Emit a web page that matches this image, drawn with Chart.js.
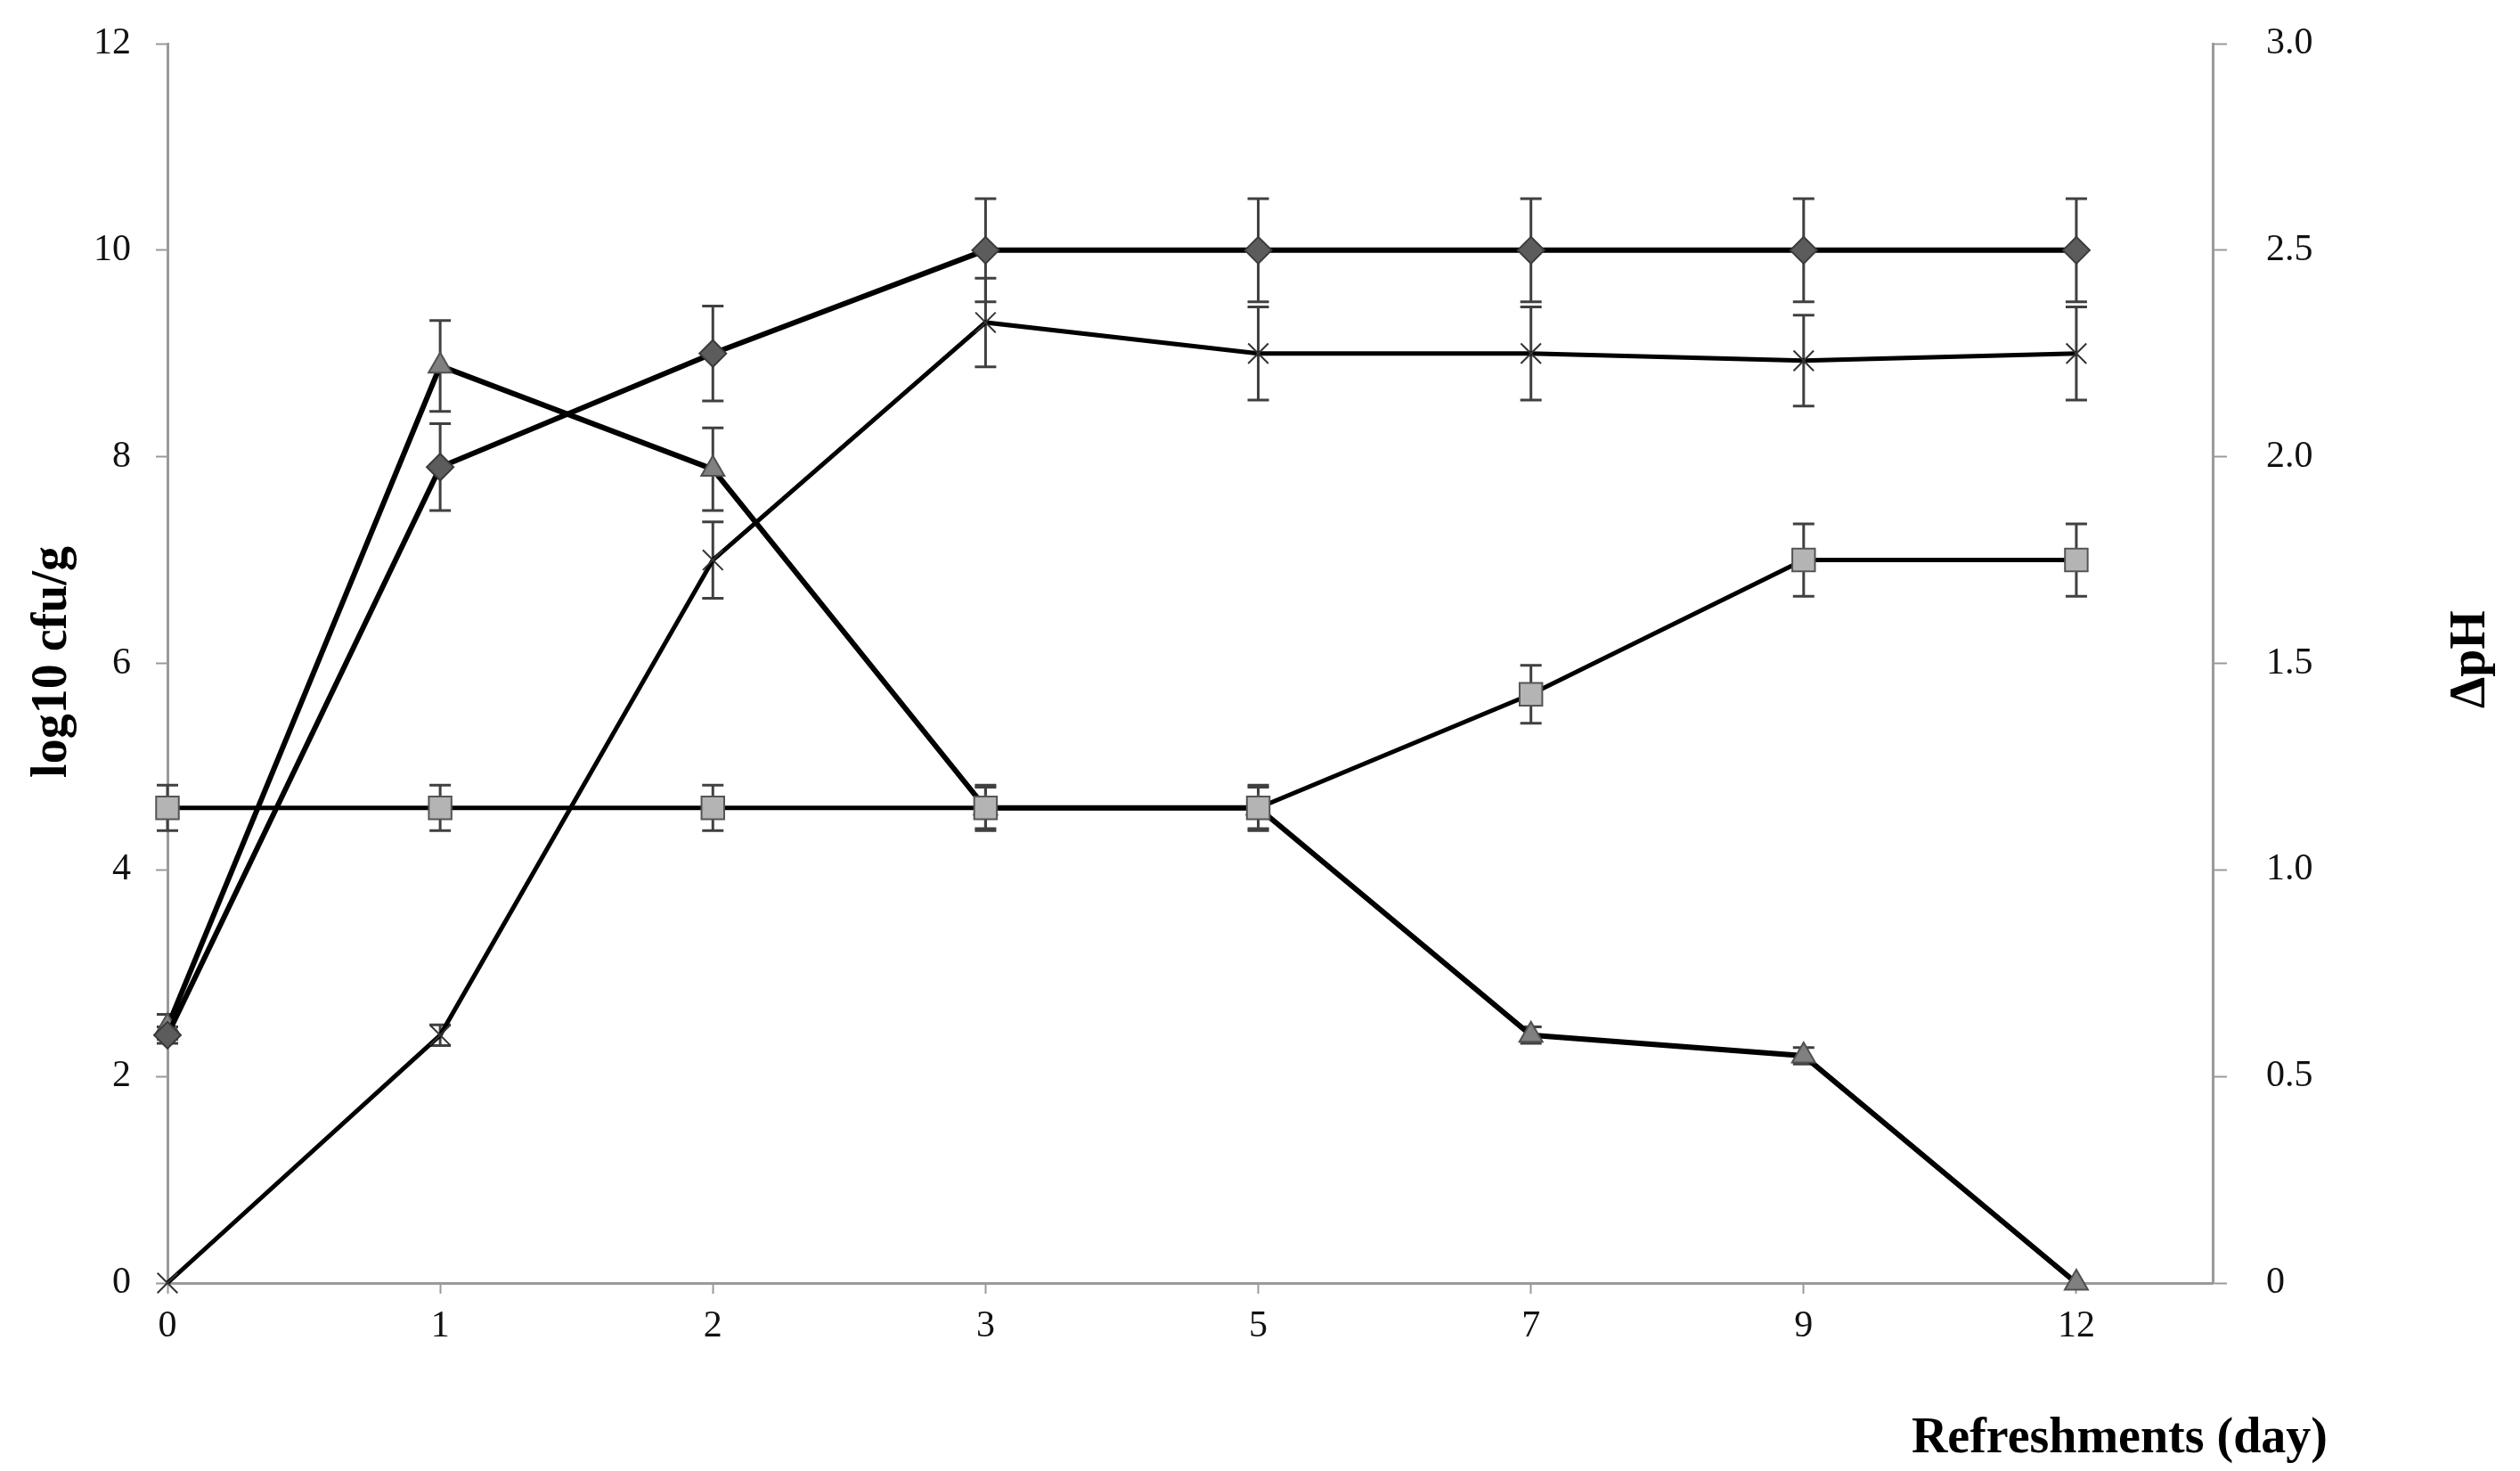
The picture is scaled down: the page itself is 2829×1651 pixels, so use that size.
<!DOCTYPE html>
<html>
<head>
<meta charset="utf-8">
<script src="https://cdn.jsdelivr.net/npm/chart.js@4.4.1/dist/chart.umd.min.js"></script>
<style>
    body { margin: 0; background: #ffffff; }
    #chart { display: block; }
</style>
</head>
<body>
<canvas id="chart" width="2829" height="1651"></canvas>
<script>
// refreshment days (shown as evenly spaced categories)
const days = ["0", "1", "2", "3", "5", "7", "9", "12"];
const dayIndex = [0, 1, 2, 3, 4, 5, 6, 7];

// log10 cfu/g series
const diamondValues = [2.4, 7.9, 9.0, 10.0, 10.0, 10.0, 10.0, 10.0];
const diamondErrors = [0.08, 0.42, 0.46, 0.5, 0.5, 0.5, 0.5, 0.5];

const crossValues = [0, 2.4, 7.0, 9.3, 9.0, 9.0, 8.93, 9.0];
const crossErrors = [0, 0.1, 0.37, 0.43, 0.45, 0.45, 0.44, 0.45];

const squareValues = [4.6, 4.6, 4.6, 4.6, 4.6, 5.7, 7.0, 7.0];
const squareErrors = [0.22, 0.22, 0.22, 0.22, 0.22, 0.28, 0.35, 0.35];

// delta pH series (right axis)
const phValues = [0.62, 2.22, 1.97, 1.15, 1.15, 0.6, 0.55, 0];
const phErrors = [0.03, 0.11, 0.1, 0.05, 0.05, 0.02, 0.02, 0];

// axis ticks
const leftTicks = [0, 2, 4, 6, 8, 10, 12];
const rightTicks = [0, 0.5, 1.0, 1.5, 2.0, 2.5, 3.0];

const serif = '"Liberation Serif", "Times New Roman", serif';
const axisGray = "#9a9a9a";

function points(values) {
    return values.map((v, i) => ({ x: dayIndex[i], y: v }));
}

const errorBarPlugin = {
    id: "errorBars",
    beforeDatasetsDraw(chart) {
        const ctx = chart.ctx;
        ctx.save();
        ctx.strokeStyle = "#404040";
        ctx.lineWidth = 3;
        chart.data.datasets.forEach((ds, di) => {
            if (!ds.errorBars) return;
            const meta = chart.getDatasetMeta(di);
            const scale = chart.scales[ds.yAxisID];
            meta.data.forEach((pt, i) => {
                const err = ds.errorBars[i];
                if (!err) return;
                const v = ds.data[i].y;
                const top = scale.getPixelForValue(v + err);
                const bottom = scale.getPixelForValue(v - err);
                const cap = 12;
                ctx.beginPath();
                ctx.moveTo(pt.x, top);
                ctx.lineTo(pt.x, bottom);
                ctx.moveTo(pt.x - cap, top);
                ctx.lineTo(pt.x + cap, top);
                ctx.moveTo(pt.x - cap, bottom);
                ctx.lineTo(pt.x + cap, bottom);
                ctx.stroke();
            });
        });
        ctx.restore();
    }
};

const titlePlugin = {
    id: "axisTitles",
    afterDraw(chart) {
        const ctx = chart.ctx;
        ctx.save();
        ctx.fillStyle = "#000000";
        ctx.font = "bold 56px " + serif;
        ctx.textAlign = "center";
        ctx.textBaseline = "middle";

        ctx.save();
        ctx.translate(60, 743);
        ctx.rotate(-Math.PI / 2);
        ctx.fillText("log10 cfu/g", 0, 0);
        ctx.restore();

        ctx.save();
        ctx.translate(2775, 740);
        ctx.rotate(-Math.PI / 2);
        ctx.fillText("ΔpH", 0, 0);
        ctx.restore();

        ctx.textAlign = "right";
        ctx.textBaseline = "alphabetic";
        ctx.fillText("Refreshments (day)", 2613, 1630);
        ctx.restore();
    }
};

function fitVertical(width) {
    return (scale) => {
        scale.width = width;
        scale.paddingTop = 0;
        scale.paddingBottom = 0;
    };
}

new Chart(document.getElementById("chart"), {
    type: "line",
    data: {
        datasets: [
            {
                label: "diamond",
                data: points(diamondValues),
                errorBars: diamondErrors,
                yAxisID: "y",
                borderColor: "#000000",
                borderWidth: 6,
                pointStyle: "rectRot",
                pointRadius: 15,
                pointBackgroundColor: "#5c5c5c",
                pointBorderColor: "#3a3a3a",
                pointBorderWidth: 2
            },
            {
                label: "cross",
                data: points(crossValues),
                errorBars: crossErrors,
                yAxisID: "y",
                borderColor: "#000000",
                borderWidth: 5,
                pointStyle: "crossRot",
                pointRadius: 16,
                pointBorderColor: "#333333",
                pointBorderWidth: 2
            },
            {
                label: "square",
                data: points(squareValues),
                errorBars: squareErrors,
                yAxisID: "y",
                borderColor: "#000000",
                borderWidth: 5,
                pointStyle: "rect",
                pointRadius: 18,
                pointBackgroundColor: "#b4b4b4",
                pointBorderColor: "#555555",
                pointBorderWidth: 2
            },
            {
                label: "triangle",
                data: points(phValues),
                errorBars: phErrors,
                yAxisID: "y2",
                borderColor: "#000000",
                borderWidth: 6,
                pointStyle: "triangle",
                pointRadius: 15,
                pointBackgroundColor: "#808080",
                pointBorderColor: "#505050",
                pointBorderWidth: 2
            }
        ]
    },
    options: {
        responsive: false,
        animation: false,
        devicePixelRatio: 1,
        layout: { padding: { top: 49, left: 0, right: 0, bottom: 0 } },
        plugins: {
            legend: { display: false },
            tooltip: { enabled: false }
        },
        elements: { line: { tension: 0 } },
        datasets: { line: { clip: false } },
        scales: {
            x: {
                type: "linear",
                min: 0,
                max: 7.5,
                afterBuildTicks(scale) {
                    scale.ticks = dayIndex.map((v) => ({ value: v }));
                },
                afterFit(scale) {
                    scale.height = 211;
                    scale.paddingLeft = 0;
                    scale.paddingRight = 0;
                },
                ticks: {
                    callback: (v) => days[v],
                    font: { family: serif, size: 42 },
                    color: "#111111",
                    padding: 12,
                    maxRotation: 0,
                    autoSkip: false
                },
                grid: {
                    drawOnChartArea: false,
                    drawTicks: true,
                    tickLength: 12,
                    tickColor: axisGray,
                    tickWidth: 2
                },
                border: { display: true, color: axisGray, width: 3 }
            },
            y: {
                position: "left",
                min: 0,
                max: 12,
                afterBuildTicks(scale) {
                    scale.ticks = leftTicks.map((v) => ({ value: v }));
                },
                afterFit: fitVertical(188),
                ticks: {
                    font: { family: serif, size: 42 },
                    color: "#111111",
                    padding: 28
                },
                grid: {
                    drawOnChartArea: false,
                    drawTicks: true,
                    tickLength: 13,
                    tickColor: axisGray,
                    tickWidth: 2
                },
                border: { display: true, color: axisGray, width: 3 }
            },
            y2: {
                position: "right",
                min: 0,
                max: 3,
                afterBuildTicks(scale) {
                    scale.ticks = rightTicks.map((v) => ({ value: v }));
                },
                afterFit: fitVertical(345),
                ticks: {
                    callback: (v) => (v === 0 ? "0" : v.toFixed(1)),
                    font: { family: serif, size: 42 },
                    color: "#111111",
                    padding: 44
                },
                grid: {
                    drawOnChartArea: false,
                    drawTicks: true,
                    tickLength: 16,
                    tickColor: axisGray,
                    tickWidth: 2
                },
                border: { display: true, color: axisGray, width: 3 }
            }
        }
    },
    plugins: [errorBarPlugin, titlePlugin]
});
</script>
</body>
</html>
